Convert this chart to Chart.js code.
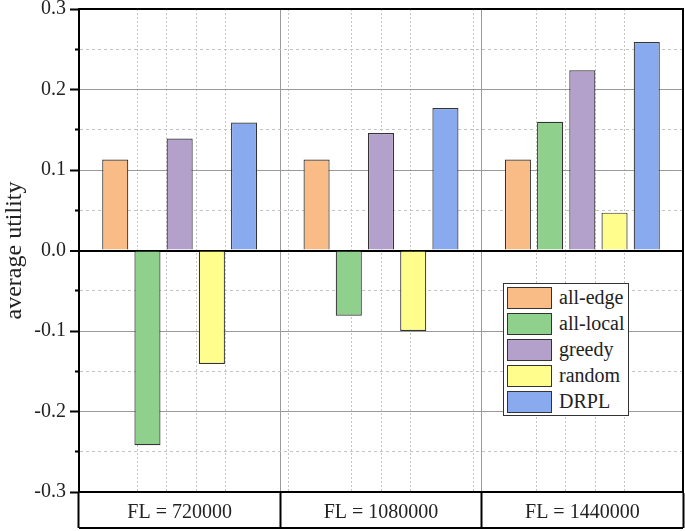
<!DOCTYPE html>
<html>
<head>
<meta charset="utf-8">
<script src="https://cdn.jsdelivr.net/npm/chart.js@4.4.1/dist/chart.umd.min.js"></script>
<style>
    html, body { margin: 0; padding: 0; background: #fff; }
    #wrap { position: relative; width: 685px; height: 531px; }
    #legend {
        position: absolute; left: 503px; top: 283px; width: 124px; height: 131px;
        border: 1px solid #333; background: #fff; box-sizing: content-box;
        font-family: "Liberation Serif", "DejaVu Serif", serif; font-size: 20px; color: #222;
    }
    .item { position: absolute; left: 3px; height: 24px; }
    .swatch { position: absolute; left: 0; top: 0; width: 45px; height: 22px; border: 1px solid #333; box-sizing: border-box; }
    .label { position: absolute; left: 52px; top: -1px; line-height: 22px; white-space: nowrap; }
</style>
</head>
<body>
<div id="wrap">
    <canvas id="chart" width="685" height="531"></canvas>
    <div id="legend"></div>
</div>
<script>
// chart data
const categories = ['FL = 720000', 'FL = 1080000', 'FL = 1440000'];
const seriesNames = ['all-edge', 'all-local', 'greedy', 'random', 'DRPL'];
const allEdge  = [0.113, 0.113, 0.113];
const allLocal = [-0.242, -0.081, 0.160];
const greedy   = [0.139, 0.146, 0.224];
const random   = [-0.141, -0.100, 0.047];
const drpl     = [0.159, 0.177, 0.259];
const seriesColors = ['#F9BC86', '#8ED08C', '#B3A1CC', '#FFFE8C', '#89AAEE'];

const yMin = -0.3, yMax = 0.3, yStep = 0.05;

const FONT = '"Liberation Serif", "DejaVu Serif", serif';
const CAT_PCT = 0.8;
const BAR_PCT = 0.81;

function isMajor(v) {
    return Math.abs(v * 10 - Math.round(v * 10)) < 1e-6;
}

// dashed guide lines sit between the bar slots of each group
const barEdges = [];
categories.forEach((c, i) => {
    const slot = CAT_PCT / seriesNames.length;
    for (let k = 1; k < seriesNames.length; k++) {
        barEdges.push(i - CAT_PCT / 2 + k * slot);
    }
});

const seriesValues = [allEdge, allLocal, greedy, random, drpl];

const framePlugin = {
    id: 'frame',
    afterDatasetsDraw(chart) {
        const { ctx, chartArea } = chart;
        const xs = chart.scales.x;
        ctx.save();
        ctx.strokeStyle = '#000';
        ctx.lineWidth = 2;
        ctx.strokeRect(chartArea.left, chartArea.top, chartArea.right - chartArea.left, chartArea.bottom - chartArea.top);
        // bottom edge of the category label row
        ctx.beginPath();
        ctx.moveTo(chartArea.left, xs.bottom - 1);
        ctx.lineTo(chartArea.right, xs.bottom - 1);
        ctx.stroke();
        ctx.restore();
    }
};

const chart = new Chart(document.getElementById('chart'), {
    type: 'bar',
    data: {
        labels: categories,
        datasets: seriesNames.map((name, i) => ({
            label: name,
            data: seriesValues[i],
            backgroundColor: seriesColors[i],
            borderColor: '#333',
            borderWidth: 1.2,
            categoryPercentage: CAT_PCT,
            barPercentage: BAR_PCT,
            xAxisID: 'x',
            yAxisID: 'y'
        }))
    },
    options: {
        responsive: false,
        animation: false,
        layout: { padding: { top: 9, right: 2, bottom: 2, left: 0 } },
        plugins: {
            legend: { display: false },
            tooltip: { enabled: false }
        },
        scales: {
            x: {
                type: 'category',
                position: 'bottom',
                offset: true,
                grid: {
                    offset: true,
                    color: '#9a9a9a',
                    lineWidth: 1,
                    drawTicks: true,
                    tickLength: 36,
                    tickColor: '#000',
                    tickWidth: 2
                },
                border: { color: '#000', width: 2 },
                ticks: {
                    font: { family: FONT, size: 20 },
                    color: '#222',
                    padding: -27,
                    maxRotation: 0
                },
                afterFit(scale) {
                    scale.height = 37;
                    scale.paddingLeft = 0;
                    scale.paddingRight = 0;
                }
            },
            xGuide: {
                type: 'linear',
                position: 'top',
                min: -0.5,
                max: categories.length - 0.5,
                afterBuildTicks(scale) {
                    scale.ticks = barEdges.map(v => ({ value: v }));
                },
                ticks: { display: false },
                grid: { color: '#c4c4c4', lineWidth: 1, drawTicks: false },
                border: { display: false, dash: [2, 2] },
                afterFit(scale) { scale.height = 0; }
            },
            y: {
                min: yMin,
                max: yMax,
                ticks: {
                    stepSize: yStep,
                    autoSkip: false,
                    font: { family: FONT, size: 20 },
                    color: '#222',
                    padding: 4,
                    callback: v => isMajor(v) ? v.toFixed(1) : ''
                },
                grid: {
                    color: ctx => {
                        if (!ctx.tick) return '#9a9a9a';
                        if (Math.abs(ctx.tick.value) < 1e-9) return '#000';
                        return isMajor(ctx.tick.value) ? '#9a9a9a' : '#c4c4c4';
                    },
                    lineWidth: ctx => (ctx.tick && Math.abs(ctx.tick.value) < 1e-9) ? 2 : 1,
                    tickLength: 9,
                    tickColor: '#000',
                    tickWidth: 2,
                    tickBorderDash: ctx => (ctx.tick && !isMajor(ctx.tick.value)) ? [0, 5, 5, 30] : []
                },
                border: {
                    color: '#000',
                    width: 2,
                    dash: ctx => (ctx.tick && !isMajor(ctx.tick.value)) ? [3, 3] : []
                },
                title: {
                    display: true,
                    text: 'average utility',
                    font: { family: FONT, size: 24 },
                    color: '#222',
                    padding: { top: 0, bottom: 0 }
                },
                afterFit(scale) {
                    scale.width = 79;
                    scale.paddingTop = 0;
                    scale.paddingBottom = 0;
                }
            }
        }
    },
    plugins: [framePlugin]
});

// legend inside the plot, built from the datasets
function buildLegend() {
    const box = document.getElementById('legend');
    chart.data.datasets.forEach((ds, i) => {
        const item = document.createElement('div');
        item.className = 'item';
        item.style.top = (3 + i * 26) + 'px';
        const sw = document.createElement('div');
        sw.className = 'swatch';
        sw.style.background = ds.backgroundColor;
        const lab = document.createElement('div');
        lab.className = 'label';
        lab.textContent = ds.label;
        item.appendChild(sw);
        item.appendChild(lab);
        box.appendChild(item);
    });
}
buildLegend();
</script>
</body>
</html>
